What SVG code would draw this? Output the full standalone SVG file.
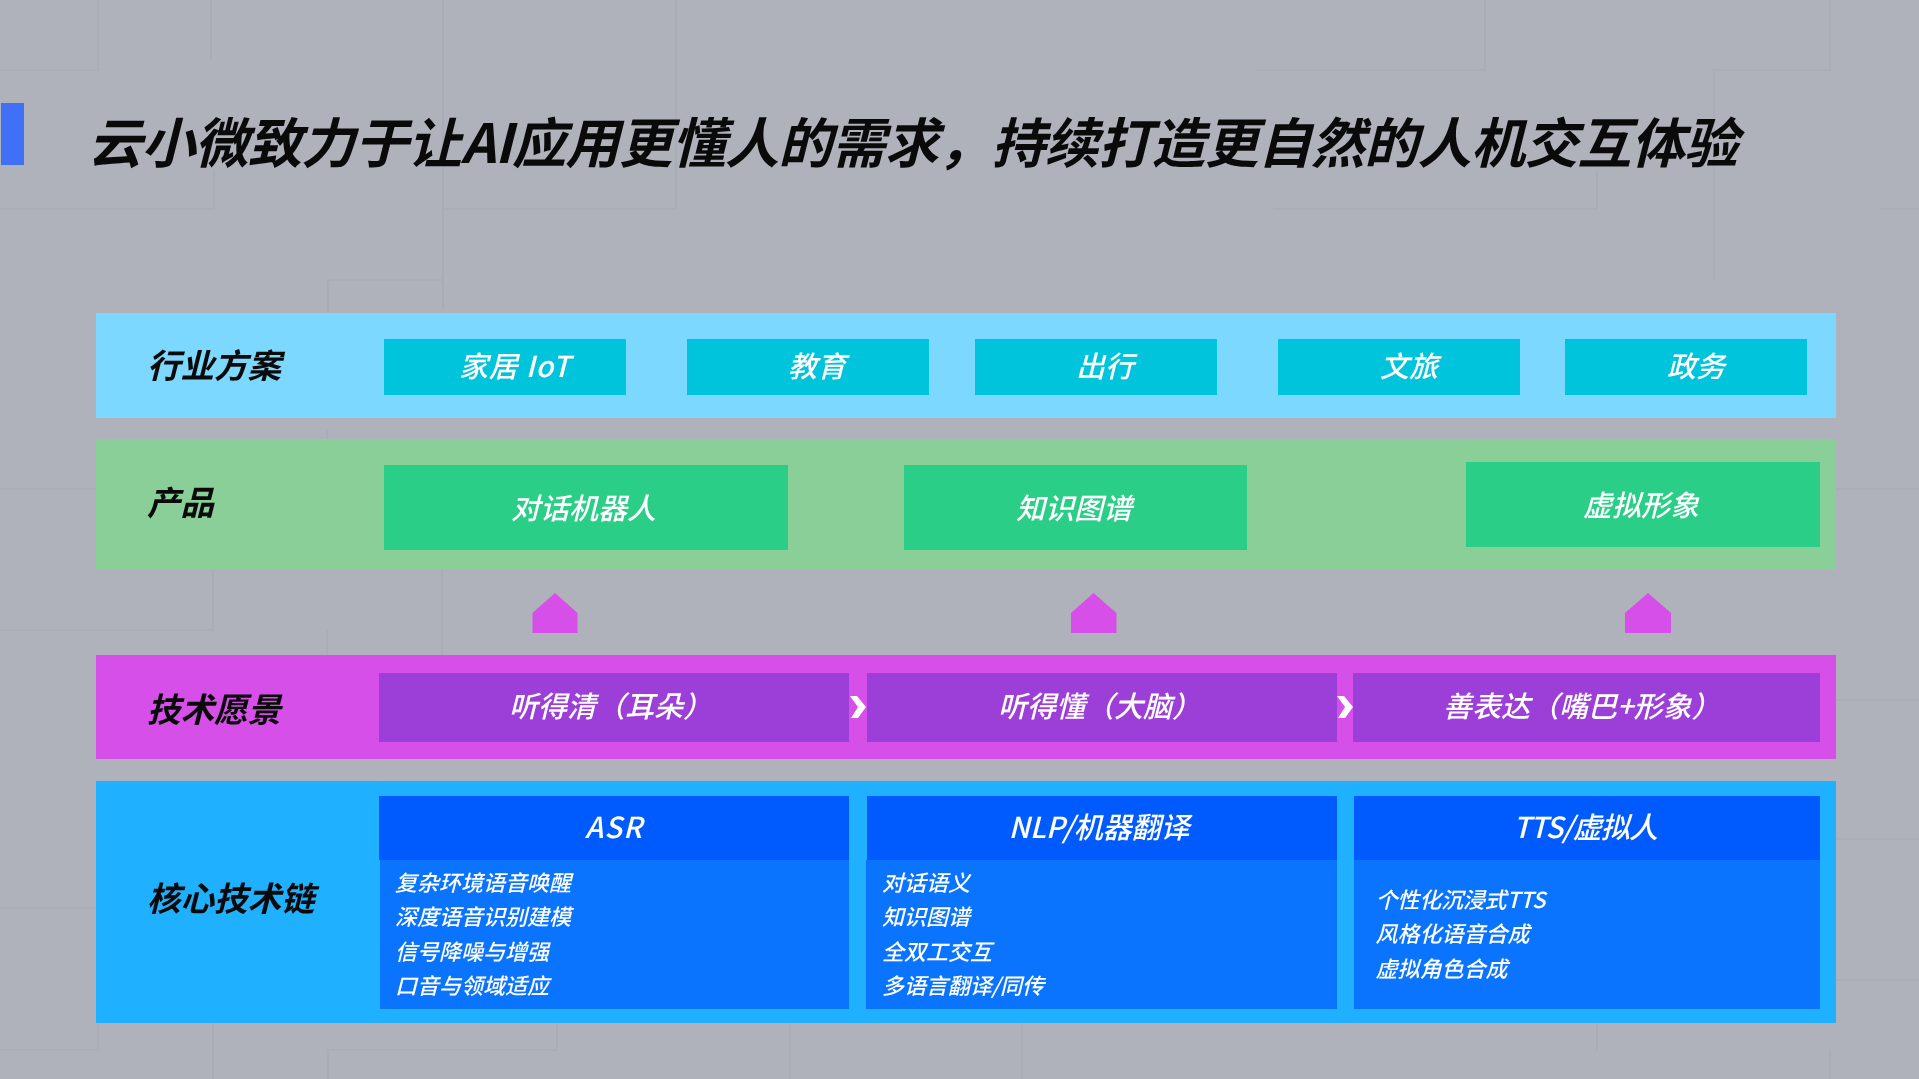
<svg xmlns="http://www.w3.org/2000/svg" width="1919" height="1079" viewBox="0 0 1919 1079">
<style>
text{font-family:"Noto Sans CJK SC","Noto Sans",sans-serif;font-style:italic;white-space:pre}
.h{font-size:33.5px;font-weight:700;fill:#0a0a0a}
.c{font-size:29px;font-weight:500;fill:#fff}
.b{font-size:22px;font-weight:500;fill:#fff}
.g{fill:none;stroke:#8f96ac;stroke-width:2;opacity:.16}
.a{fill:#d54fe8}.ch{fill:#fff}
.sub{fill:#9c3fd9}.pc{fill:#2ace87}.ic{fill:#00c4dc}.th{fill:#005bff}.tb{fill:#0a74ff}
</style>
<defs><filter id="soft" x="0" y="0" width="100%" height="100%"><feGaussianBlur stdDeviation="0.7"/></filter></defs>
<rect width="1919" height="1079" fill="#afb2bb"/>
<g id="background-lines" filter="url(#soft)">
<path class="g" d="M0 70H98V0M0 209H214V170M443 0V310M676 0V209H443V280H328V320M211 0V60M1485 0V70H1255M1830 0V70H1714V280M1597 170V209H1273M1880 209H1919"/>
<path class="g" d="M213 570V630H96M327 430V440M327 630V655M442 570V655M96 630H0M1836 489H1919M1836 700H1919M1836 839H1919M1836 980H1919M0 489H96M0 908H96"/>
<path class="g" d="M0 1050H98V1023M213 1023V1079M328 1079V1050H557V1023M790 1023V1079M1022 1023V1079M1830 1050V1079M1597 1023V1050"/>
</g>
<rect x="1" y="103" width="23" height="62" fill="#4070f8"/>
<text id="title" x="88" y="163" font-size="54" font-weight="700" fill="#0a0a0a" textLength="1650">云小微致力于让AI应用更懂人的需求，持续打造更自然的人机交互体验</text>

<g id="row-industry">
<rect x="96" y="313" width="1740" height="105" fill="#7dd8ff"/>
<text class="h" x="147" y="378">行业方案</text>
<g id="industry-home"><rect class="ic" x="384" y="339" width="242" height="56"/><text class="c" x="459" y="377" textLength="111">家居 IoT</text></g>
<g id="industry-edu"><rect class="ic" x="687" y="339" width="242" height="56"/><text class="c" x="788" y="377">教育</text></g>
<g id="industry-travel"><rect class="ic" x="975" y="339" width="242" height="56"/><text class="c" x="1076" y="377">出行</text></g>
<g id="industry-culture"><rect class="ic" x="1278" y="339" width="242" height="56"/><text class="c" x="1380" y="377">文旅</text></g>
<g id="industry-gov"><rect class="ic" x="1565" y="339" width="242" height="56"/><text class="c" x="1667" y="377">政务</text></g>
</g>

<g id="row-product">
<rect x="96" y="439" width="1740" height="131" fill="#8acf98"/>
<text class="h" x="147" y="515">产品</text>
<g id="product-bot"><rect class="pc" x="384" y="465" width="404" height="85"/><text class="c" x="511" y="519">对话机器人</text></g>
<g id="product-kg"><rect class="pc" x="904" y="465" width="343" height="85"/><text class="c" x="1016" y="519">知识图谱</text></g>
<g id="product-avatar"><rect class="pc" x="1466" y="462" width="354" height="85"/><text class="c" x="1583" y="516">虚拟形象</text></g>
</g>

<g id="connectors">
<polygon class="a" points="555,593 577.5,613 577.5,633 532.5,633 532.5,613"/>
<polygon class="a" points="1093.5,593 1116.5,613 1116.5,633 1071,633 1071,613"/>
<polygon class="a" points="1648,593 1671,613 1671,633 1625,633 1625,613"/>
</g>

<g id="row-vision">
<rect x="96" y="655" width="1740" height="104" fill="#d54fe8"/>
<text class="h" x="147" y="722">技术愿景</text>
<g id="vision-hear"><rect class="sub" x="379" y="673" width="470" height="69"/><text class="c" x="509" y="717">听得清（耳朵）</text></g>
<g id="vision-understand"><rect class="sub" x="867" y="673" width="470" height="69"/><text class="c" x="998" y="717">听得懂（大脑）</text></g>
<g id="vision-express"><rect class="sub" x="1353" y="673" width="467" height="69"/><text class="c" x="1443" y="717">善表达（嘴巴+形象）</text></g>
</g>
<g id="chevrons">
<polygon class="ch" points="850,696 857,696 866,707 858,718 851,718 858,707"/>
<polygon class="ch" points="1337,696 1344,696 1353,707 1345,718 1338,718 1345,707"/>
</g>

<g id="row-core">
<rect x="96" y="781" width="1740" height="242" fill="#1fb1ff"/>
<text class="h" x="147" y="911">核心技术链</text>
<g id="core-asr">
<rect class="tb" x="380" y="860" width="469" height="149"/><rect class="th" x="379" y="796" width="470" height="64"/>
<text class="c" x="585" y="838" font-size="31" textLength="57">ASR</text>
<text class="b" x="395" y="891">复杂环境语音唤醒</text><text class="b" x="395" y="925">深度语音识别建模</text><text class="b" x="395" y="960">信号降噪与增强</text><text class="b" x="395" y="994">口音与领域适应</text>
</g>
<g id="core-nlp">
<rect class="tb" x="866" y="860" width="471" height="149"/><rect class="th" x="867" y="796" width="470" height="64"/>
<text class="c" x="1008.500" y="838" textLength="181">NLP/机器翻译</text>
<text class="b" x="882" y="891">对话语义</text><text class="b" x="882" y="925">知识图谱</text><text class="b" x="882" y="960">全双工交互</text><text class="b" x="882" y="994" textLength="162">多语言翻译/同传</text>
</g>
<g id="core-tts">
<rect class="tb" x="1354" y="860" width="466" height="149"/><rect class="th" x="1354" y="796" width="466" height="64"/>
<text class="c" x="1513" y="838" textLength="145">TTS/虚拟人</text>
<text class="b" x="1375.500" y="908" textLength="170">个性化沉浸式TTS</text><text class="b" x="1375.500" y="942">风格化语音合成</text><text class="b" x="1375.500" y="977">虚拟角色合成</text>
</g>
</g>
</svg>
